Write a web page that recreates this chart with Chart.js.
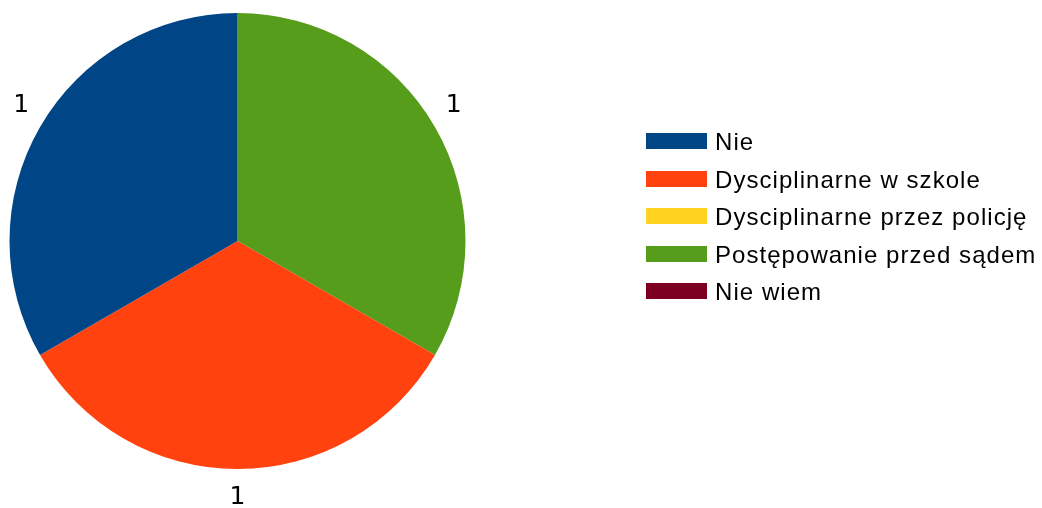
<!DOCTYPE html>
<html>
<head>
<meta charset="utf-8">
<script src="https://cdn.jsdelivr.net/npm/chart.js@4/dist/chart.umd.min.js"></script>
<style>
html,body{margin:0;padding:0;background:#fff;}
#wrap{width:1042px;height:508px;position:relative;}
</style>
</head>
<body>
<div id="wrap"><canvas id="c" width="1042" height="508"></canvas></div>
<script>
const categories = ["Nie", "Dysciplinarne w szkole", "Dysciplinarne przez policję", "Postępowanie przed sądem", "Nie wiem"];
const values = [1, 1, 0, 1, 0];
const colors = ["#004586", "#ff420e", "#ffd320", "#579d1c", "#7e0021"];

// The original draws counter-clockwise from the top; Chart.js draws clockwise,
// so the drawing order is reversed while the legend keeps the original order.
const drawLabels = categories.slice().reverse();
const drawValues = values.slice().reverse();
const drawColors = colors.slice().reverse();

const FONT = "'Liberation Sans', Arial, sans-serif";

const labelPlugin = {
  id: 'outerLabels',
  afterDatasetsDraw(chart) {
    const ctx = chart.ctx;
    const meta = chart.getDatasetMeta(0);
    ctx.save();
    ctx.fillStyle = '#000';
    ctx.font = "25px 'DejaVu Sans', sans-serif";
    ctx.textAlign = 'center';
    ctx.textBaseline = 'middle';
    meta.data.forEach((arc, i) => {
      const v = chart.data.datasets[0].data[i];
      if (!v) return;
      const mid = (arc.startAngle + arc.endAngle) / 2;
      const r = arc.outerRadius + 13;
      const c = Math.cos(mid), s = Math.sin(mid);
      const w = 15, h = 30;
      const ox = c > 0.1 ? w / 2 : (c < -0.1 ? -w / 2 : 0);
      const oy = s > 0.1 ? h / 2 : (s < -0.1 ? -h / 2 : 0);
      ctx.fillText(String(v), arc.x + c * r + ox, arc.y + s * r + oy);
    });
    ctx.restore();
  }
};

const legendPlugin = {
  id: 'customLegend',
  afterDraw(chart) {
    const ctx = chart.ctx;
    ctx.save();
    ctx.font = "24px " + FONT;
    if ('letterSpacing' in ctx) ctx.letterSpacing = '1.05px';
    ctx.textBaseline = 'alphabetic';
    ctx.textAlign = 'left';
    const x0 = 646, top0 = 133, step = 37.5;
    categories.forEach((name, i) => {
      const t = Math.round(top0 + i * step);
      ctx.fillStyle = colors[i];
      ctx.fillRect(x0, t, 61, 16);
      ctx.fillStyle = '#000';
      ctx.fillText(name, 715, t + 16.5);
    });
    ctx.restore();
  }
};

new Chart(document.getElementById('c'), {
  type: 'pie',
  data: {
    labels: drawLabels,
    datasets: [{
      data: drawValues,
      backgroundColor: drawColors,
      borderWidth: 0
    }]
  },
  options: {
    responsive: false,
    animation: false,
    events: [],
    layout: { padding: { left: 9, right: 576, top: 13, bottom: 39 } },
    plugins: {
      legend: { display: false },
      tooltip: { enabled: false }
    }
  },
  plugins: [labelPlugin, legendPlugin]
});
</script>
</body>
</html>
